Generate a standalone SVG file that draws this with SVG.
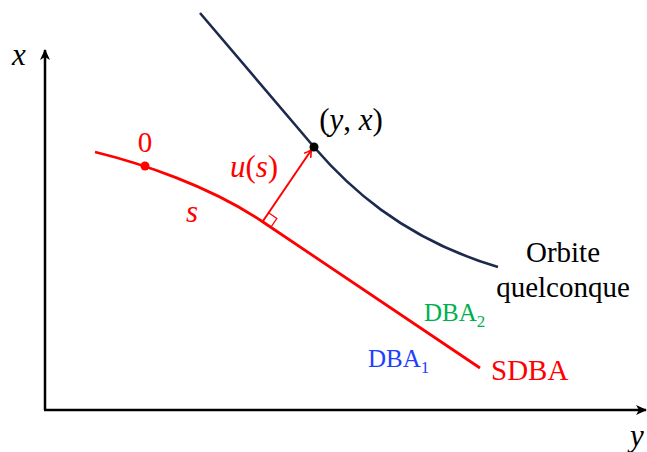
<svg xmlns="http://www.w3.org/2000/svg" width="647" height="452" viewBox="0 0 647 452">
<defs>
<marker id="ax" viewBox="0 0 12 12" refX="10" refY="6" markerWidth="12" markerHeight="12" markerUnits="userSpaceOnUse" orient="auto">
<path d="M0,1 L11,6 L0,11 L3,6 Z" fill="#000"/>
</marker>
<marker id="ar" viewBox="0 0 10 10" refX="9" refY="5" markerWidth="10" markerHeight="10" markerUnits="userSpaceOnUse" orient="auto">
<path d="M1,1 Q5,4 9,5 Q5,6 1,9" fill="none" stroke="#ff0000" stroke-width="1.6"/>
</marker>
</defs>
<g id="axes">
<line x1="45" y1="410" x2="45" y2="50" stroke="#000" stroke-width="2.5" marker-end="url(#ax)"/>
<line x1="44" y1="410" x2="646" y2="410" stroke="#000" stroke-width="2.5" marker-end="url(#ax)"/>
<text font-family="Times New Roman" font-style="italic" x="12" y="65" font-size="31">x</text>
<text font-family="Times New Roman" font-style="italic" x="630" y="446" font-size="31">y</text>
</g>
<g id="connectors">
<path id="orbit" d="M200,13 L314,147 C345,183 400,238 498,267" fill="none" stroke="#1b2a4d" stroke-width="2.6"/>
<path id="sdba" d="M95,152 C140,163 210,186 263,222 L480,368" fill="none" stroke="#ff0000" stroke-width="2.8"/>
<line x1="263" y1="221" x2="312" y2="149" stroke="#ff0000" stroke-width="2" marker-end="url(#ar)"/>
<polyline points="268.6,212.7 276.9,218.4 271.3,226.7" fill="none" stroke="#ff0000" stroke-width="1.2"/>
</g>
<g id="origin">
<circle cx="145" cy="166" r="4.5" fill="#ff0000"/>
<text fill="#ff0000" font-family="Times New Roman" font-size="29" x="145" y="152" text-anchor="middle">0</text>
</g>
<g id="point">
<circle cx="314" cy="147" r="4.5" fill="#000"/>
<text font-family="Times New Roman" x="351" y="130" text-anchor="middle" font-size="31">(<tspan font-style="italic">y</tspan>, <tspan font-style="italic">x</tspan>)</text>
</g>
<g id="labels">
<text fill="#ff0000" font-family="Times New Roman" font-style="italic" x="192" y="222" text-anchor="middle" font-size="31">s</text>
<text fill="#ff0000" font-family="Times New Roman" x="254" y="177" text-anchor="middle" font-size="31"><tspan font-style="italic">u</tspan>(<tspan font-style="italic">s</tspan>)</text>
<text font-family="Times New Roman" font-size="29" x="563" y="262" text-anchor="middle">Orbite</text>
<text font-family="Times New Roman" font-size="29" x="563" y="297" text-anchor="middle">quelconque</text>
<text font-family="Times New Roman" x="424" y="321" fill="#00b050" font-size="25">DBA<tspan font-size="17" dy="6">2</tspan></text>
<text font-family="Times New Roman" x="368" y="367" fill="#1f3fff" font-size="25">DBA<tspan font-size="17" dy="6">1</tspan></text>
<text fill="#ff0000" font-family="Times New Roman" font-size="29" x="491" y="380">SDBA</text>
</g>
</svg>
